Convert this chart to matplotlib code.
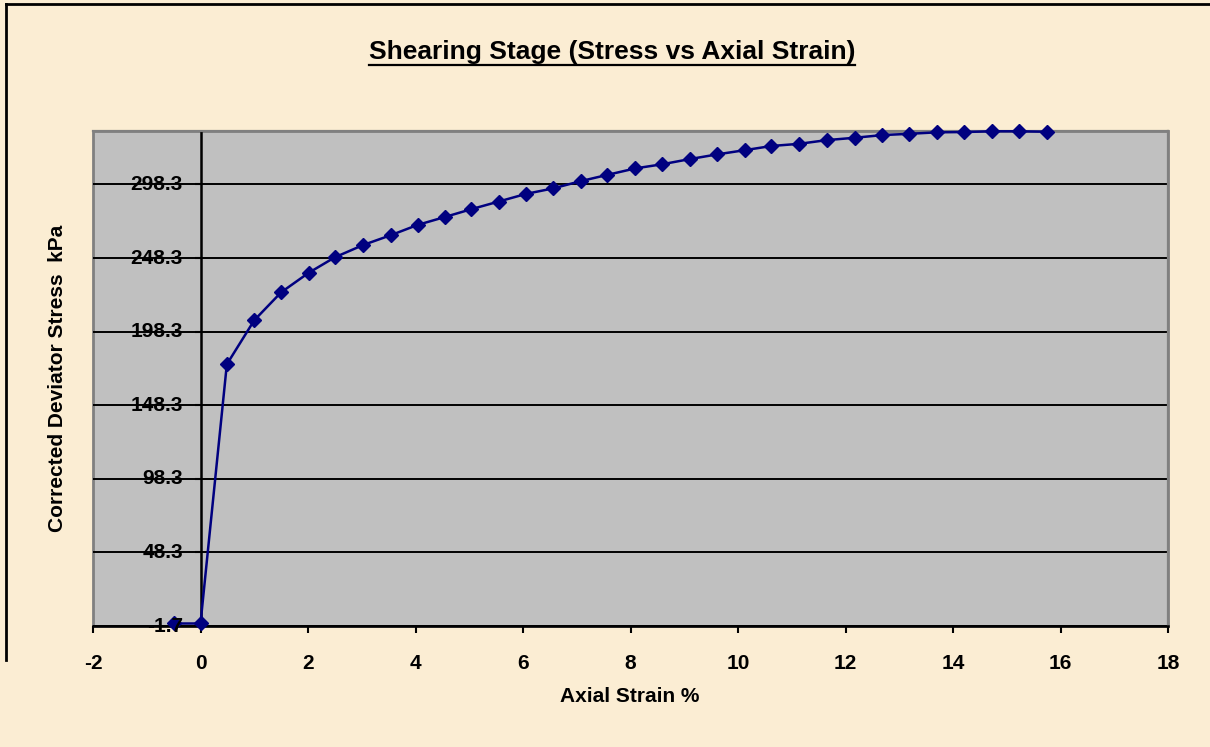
import numpy as np
import matplotlib
matplotlib.use("Agg")
import matplotlib.pyplot as plt
from matplotlib.lines import Line2D

# axial strain (%) and corrected deviator stress (kPa)
strain = [-0.5, 0.0, 0.49, 1.00, 1.50, 2.01, 2.50, 3.03, 3.54, 4.04, 4.54, 5.04,
          5.55, 6.06, 6.56, 7.07, 7.57, 8.09, 8.59, 9.10, 9.61, 10.13, 10.62,
          11.14, 11.65, 12.17, 12.68, 13.19, 13.70, 14.21, 14.72, 15.22, 15.74]
stress = [0.0, 0.0, 176.1, 206.0, 225.0, 238.2, 248.8, 257.2, 263.8, 270.8,
          276.1, 281.5, 286.7, 291.9, 295.6, 300.5, 304.8, 309.2, 312.0, 315.5,
          318.7, 321.6, 324.4, 325.9, 328.4, 330.0, 331.8, 332.7, 333.7, 333.9,
          334.4, 334.4, 334.1]

y_ticks = [-1.7, 48.3, 98.3, 148.3, 198.3, 248.3, 298.3]
x_ticks = [-2, 0, 2, 4, 6, 8, 10, 12, 14, 16, 18]

TITLE = "Shearing Stage (Stress vs Axial Strain)"
XLABEL = "Axial Strain %"
YLABEL = "Corrected Deviator Stress  kPa"

plt.rcParams["font.family"] = ["Liberation Sans", "DejaVu Sans"]
plt.rcParams["font.weight"] = "bold"

BG = "#FBEDD3"
fig = plt.figure(figsize=(12.10, 7.47), dpi=100, facecolor=BG)
ax = fig.add_axes([93 / 1210, 1 - 626 / 747, (1168 - 93) / 1210, (626 - 131) / 747])
ax.set_facecolor("#C0C0C0")

# plot area border (gray)
ax.patch.set_edgecolor("#808080")
ax.patch.set_linewidth(2.0)
for s in ["top", "right"]:
    ax.spines[s].set_color("#808080")
    ax.spines[s].set_linewidth(1.6)

# value axis crosses at x = 0
ax.spines["left"].set_position(("data", 0))
ax.spines["left"].set_color("black")
ax.spines["left"].set_linewidth(1.8)
ax.spines["bottom"].set_color("black")
ax.spines["bottom"].set_linewidth(1.8)

ax.set_xlim(-2, 18)
ax.set_ylim(-1.7, 334.6)
ax.set_xticks(x_ticks)
ax.set_xticklabels([str(v) for v in x_ticks])
ax.set_yticks(y_ticks)
ax.set_yticklabels([])

ax.tick_params(axis="x", direction="out", length=5, width=1.5, pad=15,
               labelsize=15, colors="black")
ax.tick_params(axis="y", direction="out", length=4, width=1.5, colors="black")
for lab in ax.get_xticklabels():
    lab.set_fontweight("bold")

# y tick labels drawn on top of the markers (as in the original)
for v in y_ticks:
    ax.text(-0.33, v, f"{v:.1f}", ha="right", va="center", fontsize=15,
            fontweight="bold", zorder=6, clip_on=False)

ax.yaxis.grid(True, color="black", linewidth=1.4)
ax.set_axisbelow(True)

ax.plot(strain, stress, color="#000080", linewidth=1.8, marker="D",
        markersize=7.4, markerfacecolor="#000080", markeredgecolor="#000080",
        zorder=3, clip_on=False)

# titles
t = fig.text(612 / 1210, 1 - 52 / 747, TITLE, ha="center", va="center",
             fontsize=19, fontweight="bold")
fig.text(630 / 1210, 1 - 696 / 747, XLABEL, ha="center", va="center",
         fontsize=15, fontweight="bold")
fig.text(58 / 1210, 1 - 378.5 / 747, YLABEL, ha="center", va="center",
         rotation=90, fontsize=15, fontweight="bold")

# underline under the title
fig.canvas.draw()
bb = t.get_window_extent(renderer=fig.canvas.get_renderer())
inv = fig.transFigure.inverted()
(x0, y0), (x1, y1) = inv.transform([(bb.x0, bb.y0), (bb.x1, bb.y1)])
fig.add_artist(Line2D([x0, x1], [y0 - 0.002, y0 - 0.002], color="black",
                      linewidth=1.6, transform=fig.transFigure))

# outer chart border (left and top)
fig.add_artist(Line2D([6 / 1210, 6 / 1210], [1 - 660 / 747, 1 - 4 / 747],
                      color="black", linewidth=2, transform=fig.transFigure))
fig.add_artist(Line2D([6 / 1210, 1], [1 - 4 / 747, 1 - 4 / 747],
                      color="black", linewidth=2, transform=fig.transFigure))

fig.savefig("out.png", dpi=100, facecolor=BG)
